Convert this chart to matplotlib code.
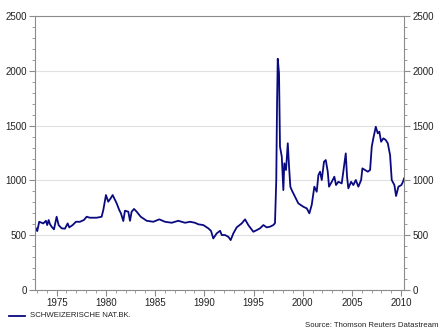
import numpy as np
import matplotlib.pyplot as plt
from matplotlib.ticker import MultipleLocator

plt.rcParams['font.family'] = ['Liberation Sans', 'DejaVu Sans']

# Schweizerische Nationalbank share price (CHF)
years = [1972.80, 1973.03, 1973.23, 1973.64, 1973.91, 1974.04, 1974.19, 1974.32,
         1974.49, 1974.73, 1975.00, 1975.20, 1975.51, 1975.84, 1976.12, 1976.28,
         1976.63, 1976.96, 1977.37, 1977.77, 1978.05, 1978.38, 1979.07, 1979.57,
         1979.74, 1980.01, 1980.24, 1980.49, 1980.69, 1981.10, 1981.36, 1981.53,
         1981.77, 1981.94, 1982.28, 1982.45, 1982.62, 1982.86, 1983.13, 1983.54,
         1984.15, 1984.82, 1985.43, 1986.01, 1986.69, 1987.36, 1988.04, 1988.55,
         1989.05, 1989.39, 1989.90, 1990.41, 1990.68, 1990.91, 1991.26, 1991.60,
         1991.77, 1992.10, 1992.44, 1992.68, 1992.95, 1993.29, 1993.80, 1994.14,
         1994.47, 1994.98, 1995.33, 1995.66, 1996.00, 1996.34, 1996.68, 1997.01,
         1997.18, 1997.31, 1997.39, 1997.46, 1997.59, 1997.69, 1997.87, 1998.03,
         1998.13, 1998.30, 1998.48, 1998.61, 1998.74, 1998.88, 1999.22, 1999.55,
         2000.06, 2000.41, 2000.67, 2000.91, 2001.18, 2001.42, 2001.59, 2001.76,
         2001.93, 2002.16, 2002.34, 2002.54, 2002.67, 2002.95, 2003.21, 2003.38,
         2003.62, 2003.96, 2004.23, 2004.37, 2004.50, 2004.63, 2004.91, 2005.14,
         2005.39, 2005.65, 2005.93, 2006.06, 2006.33, 2006.61, 2006.84, 2007.01,
         2007.17, 2007.42, 2007.62, 2007.78, 2007.96, 2008.19, 2008.43, 2008.64,
         2008.87, 2009.04, 2009.31, 2009.48, 2009.72, 2010.02, 2010.18, 2010.30]
prices = [578, 538, 623, 608, 632, 593, 639, 602,
          578, 554, 669, 593, 563, 560, 608, 572,
          593, 623, 623, 639, 669, 660, 660, 669,
          730, 867, 806, 837, 867, 791, 730, 700,
          630, 724, 715, 632, 715, 740, 715, 669,
          632, 623, 645, 623, 614, 632, 614, 623,
          614, 600, 593, 563, 540, 471, 517, 541,
          502, 502, 486, 456, 517, 572, 608, 645,
          593, 532, 547, 563, 593, 572, 578, 593,
          610, 1000, 1700, 2110, 1977, 1308, 1217, 912,
          1156, 1095, 1339, 1125, 943, 912, 851, 791,
          760, 745, 700, 776, 943, 897, 1049, 1080,
          1004, 1171, 1186, 1080, 943, 988, 1034, 958,
          988, 973, 1156, 1247, 1034, 928, 988, 958,
          1004, 943, 1004, 1110, 1095, 1080, 1095, 1308,
          1384, 1490, 1430, 1445, 1353, 1384, 1369, 1339,
          1232, 1004, 958, 858, 943, 958, 988, 1019]

year_ticks = [1975, 1980, 1985, 1990, 1995, 2000, 2005, 2010]
price_ticks = [0, 500, 1000, 1500, 2000, 2500]

series_name = "SCHWEIZERISCHE NAT.BK."
source_text = "Source: Thomson Reuters Datastream"

navy = "#0a0a80"
axis_grey = "#8c8c8c"

fig = plt.figure(figsize=(4.4, 3.3), dpi=100)
ax = fig.add_axes([0.0795, 0.121, 0.839, 0.8305])

ax.plot(years, prices, color=navy, linewidth=1.3)

ax.set_xlim(1972.8, 2010.3)
ax.set_ylim(0, 2500)
ax.set_xticks(year_ticks)
ax.set_yticks(price_ticks)
ax.xaxis.set_minor_locator(MultipleLocator(1))
ax.yaxis.set_minor_locator(MultipleLocator(100))

ax.grid(axis='y', which='major', color='#e0e0e0', linewidth=0.8)
ax.set_axisbelow(True)

for side in ['left', 'right', 'top', 'bottom']:
    ax.spines[side].set_color(axis_grey)
    ax.spines[side].set_linewidth(0.8)

ax.tick_params(axis='both', which='both', colors=axis_grey, labelcolor='#222222',
               labelsize=7, direction='out')
ax.tick_params(axis='y', which='both', left=True, right=True,
               labelleft=True, labelright=True)
ax.tick_params(axis='y', which='major', length=4, pad=2)
ax.tick_params(axis='y', which='minor', length=2)
ax.tick_params(axis='x', which='major', length=4, pad=2)
ax.tick_params(axis='x', which='minor', length=2)

# legend line and label below the plot
fig.add_artist(plt.Line2D([9 / 440, 25 / 440], [1 - 315.5 / 330, 1 - 315.5 / 330],
                          color=navy, linewidth=1.3))
fig.text(29.5 / 440, 1 - 315.5 / 330, series_name, fontsize=5.6,
         color='#222222', va='center', ha='left')
fig.text(438 / 440, 1 - 325.5 / 330, source_text, fontsize=5.6,
         color='#222222', va='center', ha='right')

fig.savefig("out.png", dpi=100)
